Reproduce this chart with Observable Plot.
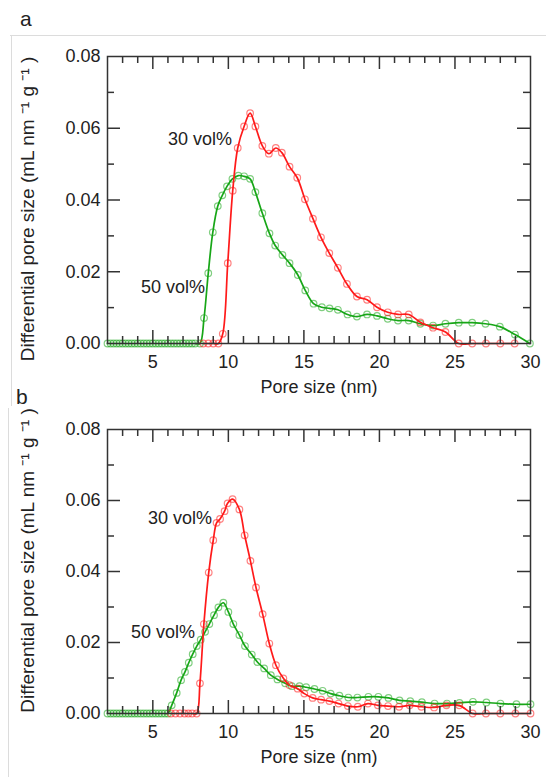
<!DOCTYPE html>
<html>
<head>
<meta charset="utf-8">
<script src="https://cdn.jsdelivr.net/npm/d3@7"></script>
<script src="https://cdn.jsdelivr.net/npm/@observablehq/plot@0.6"></script>
<style>
  body { margin: 0; background: #fff; font-family: Arial, "Liberation Sans", sans-serif; }
  #wrap { position: relative; width: 546px; height: 777px; overflow: hidden; background: #fff; }
  .panel { position: absolute; left: 0; }
  .lab { position: absolute; font-size: 21px; color: #222; line-height: 1; z-index: 3; }
  .sep { position: absolute; background: #dcdcdc; z-index: 3; }
</style>
</head>
<body>
<div id="wrap">
  <div class="lab" style="left:20px;top:8px;">a</div>
  <div class="lab" style="left:16px;top:386px;">b</div>
  <div class="sep" style="left:10px;top:35px;width:536px;height:1px;"></div>
  <div class="sep" style="left:11px;top:36px;width:1px;height:370px;"></div>
  <div class="sep" style="left:8px;top:408px;width:1px;height:369px;"></div>
  <div id="pa" class="panel" style="top:40px;"></div>
  <div id="pb" class="panel" style="top:410px;"></div>
</div>
<script>
// ---- data: [pore size (nm), differential pore volume] ----
const aRed = [
  [8.34,0],[8.67,0],[9.0,0],[9.34,0],[9.63,0.0027],[9.96,0.0224],[10.29,0.0426],[10.62,0.0545],
  [11.04,0.0605],[11.44,0.0642],[11.79,0.0605],[12.25,0.0551],[12.68,0.0529],[13.14,0.0545],
  [13.54,0.0532],[14.05,0.0493],[14.56,0.0462],[15.07,0.0402],[15.6,0.0348],[16.13,0.0296],
  [16.68,0.0252],[17.25,0.0211],[17.85,0.0166],[18.51,0.0131],[19.18,0.0122],[19.84,0.0101],
  [20.55,0.0087],[21.23,0.0081],[21.94,0.0081],[22.71,0.0059],[23.55,0.0044],[24.37,0.0032],
  [25.25,0],[26.14,0],[27.05,0],[28.0,0],[28.95,0]
];
const aGreen = [
  [2.0,0],[2.2,0],[2.4,0],[2.6,0],[2.8,0],[3.0,0],[3.2,0],[3.4,0],[3.6,0],[3.8,0],
  [4.0,0],[4.2,0],[4.4,0],[4.6,0],[4.8,0],[5.0,0],[5.2,0],[5.4,0],[5.6,0],[5.8,0],
  [6.0,0],[6.2,0],[6.4,0],[6.6,0],[6.8,0],[7.0,0],[7.2,0],[7.4,0],[7.6,0],[7.8,0],
  [8.12,0],[8.39,0.0071],[8.67,0.0196],[8.97,0.0310],[9.30,0.0383],[9.6,0.0413],[9.91,0.0438],
  [10.27,0.0459],[10.66,0.0468],[11.04,0.0466],[11.44,0.0459],[11.79,0.0422],[12.25,0.0363],
  [12.72,0.0307],[13.1,0.0273],[13.58,0.0247],[14.05,0.0224],[14.6,0.0191],[15.09,0.0148],
  [15.64,0.0111],[16.19,0.0101],[16.7,0.0098],[17.25,0.0094],[17.89,0.0081],[18.51,0.0075],
  [19.18,0.0081],[19.84,0.0077],[20.55,0.0069],[21.23,0.0064],[21.94,0.0064],[22.71,0.0055],
  [23.55,0.0050],[24.37,0.0055],[25.25,0.0058],[26.14,0.0058],[27.02,0.0055],[27.97,0.0047],
  [28.97,0.0025],[29.96,0]
];
const bRed = [
  [6.2,0],[6.5,0],[6.8,0],[7.1,0],[7.35,0],[7.6,0],[7.9,0],[8.12,0.0085],[8.38,0.0252],
  [8.7,0.0397],[9.0,0.0488],[9.22,0.0537],[9.45,0.0548],[9.75,0.0570],[9.95,0.0592],
  [10.28,0.0604],[10.73,0.0575],[11.08,0.0502],[11.46,0.0430],[11.83,0.0355],[12.27,0.0280],
  [12.71,0.0197],[13.15,0.0136],[13.64,0.0099],[14.04,0.0080],[14.59,0.0070],[15.03,0.0056],
  [15.58,0.0044],[16.14,0.0039],[16.69,0.0035],[17.29,0.0028],[17.91,0.0021],[18.57,0.0019],
  [19.24,0.0028],[19.9,0.0023],[20.57,0.0021],[21.3,0.0019],[22.0,0.0023],[22.78,0.0019],
  [23.62,0.0017],[24.44,0.0023],[25.28,0.0023],[26.17,0],[27.05,0],[28.0,0],[29.0,0],[30.0,0]
];
const bGreen = [
  [2.0,0],[2.2,0],[2.4,0],[2.6,0],[2.8,0],[3.0,0],[3.2,0],[3.4,0],[3.6,0],[3.8,0],
  [4.0,0],[4.2,0],[4.4,0],[4.6,0],[4.8,0],[5.0,0],[5.2,0],[5.4,0],[5.6,0],[5.8,0],[6.0,0],
  [6.25,0.0023],[6.58,0.0058],[6.87,0.0094],[7.13,0.0117],[7.38,0.0143],[7.64,0.0167],
  [7.91,0.0190],[8.17,0.0208],[8.46,0.0230],[8.74,0.0252],[9.05,0.0277],[9.34,0.0299],
  [9.67,0.0312],[10.0,0.0286],[10.33,0.0252],[10.73,0.0221],[11.1,0.0190],[11.55,0.0166],
  [11.92,0.0145],[12.37,0.0127],[12.81,0.0108],[13.25,0.0096],[13.76,0.0085],[14.2,0.0077],
  [14.71,0.0077],[15.15,0.0074],[15.7,0.0069],[16.24,0.0064],[16.77,0.0056],[17.35,0.0050],
  [17.94,0.0045],[18.54,0.0045],[19.27,0.0047],[19.93,0.0047],[20.6,0.0044],[21.33,0.0037],
  [22.04,0.0035],[22.81,0.0032],[23.65,0.0028],[24.47,0.0028],[25.3,0.0030],[26.19,0.0033],
  [27.08,0.0031],[28.01,0.0028],[29.07,0.0026],[30.0,0.0026]
];
// series labels placed on the plot
const aLabels = [{x: 8.12, y: 0.0569, text: "30 vol%"}, {x: 6.33, y: 0.0156, text: "50 vol%"}];
const bLabels = [{x: 6.8, y: 0.0550, text: "30 vol%"}, {x: 5.67, y: 0.0229, text: "50 vol%"}];
// ticks
const xTickLabels = [5, 10, 15, 20, 25, 30];
const xMajor = [5, 10, 15, 20, 25];
const xMinor = [3,4,6,7,8,9,11,12,13,14,16,17,18,19,21,22,23,24,26,27,28,29];
const yTickLabels = [0, 0.02, 0.04, 0.06, 0.08];
const yMajor = [0.02, 0.04, 0.06];
const yMinor = [0.01, 0.03, 0.05, 0.07];
const xTitle = "Pore size (nm)";
const yTitle = "Differential pore size (mL nm \u207B\u00B9 g \u207B\u00B9 )";

const RED = "#ff1a1a";
const GREEN = "#17a617";
const FONT = "Arial, 'Liberation Sans', sans-serif";

function panel({red, green, labels, height, marginTop, marginBottom, yTitleDy}) {
  const W = 546, mL = 107, mR = 16;
  const innerH = height - marginTop - marginBottom;
  const innerW = W - mL - mR;
  const MAJ = 13, MIN = 7;
  const acc = {x: d => d[0], y: d => d[1]};
  return Plot.plot({
    width: W, height, marginLeft: mL, marginRight: mR, marginTop, marginBottom,
    x: {domain: [2, 30]},
    y: {domain: [0, 0.08]},
    style: {fontFamily: FONT, fontSize: "18px", color: "#222", background: "transparent", overflow: "visible"},
    marks: [
      Plot.line(green, {...acc, stroke: GREEN, strokeWidth: 1.7, curve: "catmull-rom"}),
      Plot.dot(green, {...acc, r: 3.3, stroke: GREEN, strokeOpacity: 0.55, strokeWidth: 1.2, fill: "none"}),
      Plot.line(red, {...acc, stroke: RED, strokeWidth: 1.7, curve: "catmull-rom"}),
      Plot.dot(red, {...acc, r: 3.3, stroke: RED, strokeOpacity: 0.55, strokeWidth: 1.2, fill: "none"}),
      // inward ticks on all four sides
      Plot.ruleX(xMajor, {x: d => d, insetTop: innerH - MAJ, stroke: "#333", strokeWidth: 1.5}),
      Plot.ruleX(xMinor, {x: d => d, insetTop: innerH - MIN, stroke: "#333", strokeWidth: 1.5}),
      Plot.ruleX(xMajor, {x: d => d, insetBottom: innerH - MAJ, stroke: "#333", strokeWidth: 1.5}),
      Plot.ruleX(xMinor, {x: d => d, insetBottom: innerH - MIN, stroke: "#333", strokeWidth: 1.5}),
      Plot.ruleY(yMajor, {y: d => d, insetRight: innerW - MAJ, stroke: "#333", strokeWidth: 1.5}),
      Plot.ruleY(yMinor, {y: d => d, insetRight: innerW - MIN, stroke: "#333", strokeWidth: 1.5}),
      Plot.ruleY(yMajor, {y: d => d, insetLeft: innerW - MAJ, stroke: "#333", strokeWidth: 1.5}),
      Plot.ruleY(yMinor, {y: d => d, insetLeft: innerW - MIN, stroke: "#333", strokeWidth: 1.5}),
      Plot.frame({stroke: "#333", strokeWidth: 1.5}),
      Plot.axisX({ticks: xTickLabels, tickSize: 0, tickPadding: 12, label: null, fill: "#222"}),
      Plot.axisY({ticks: yTickLabels, tickSize: 0, tickPadding: 7, tickFormat: d3.format(".2f"), label: null, fill: "#222"}),
      Plot.text([xTitle], {text: d => d, frameAnchor: "bottom", dy: 44, lineAnchor: "middle", textAnchor: "middle", fill: "#222", fontSize: 18}),
      Plot.text([yTitle], {text: d => d, frameAnchor: "left", rotate: -90, dx: -80, dy: yTitleDy, lineAnchor: "middle", textAnchor: "middle", fill: "#222", fontSize: 19}),
      Plot.text(labels, {x: "x", y: "y", text: "text", fill: "#222", fontSize: 18, lineAnchor: "middle", textAnchor: "middle"})
    ]
  });
}

document.getElementById("pa").appendChild(panel({red: aRed, green: aGreen, labels: aLabels, height: 355, marginTop: 16, marginBottom: 52, yTitleDy: 9}));
document.getElementById("pb").appendChild(panel({red: bRed, green: bGreen, labels: bLabels, height: 367, marginTop: 19, marginBottom: 64, yTitleDy: -11}));
</script>
</body>
</html>
